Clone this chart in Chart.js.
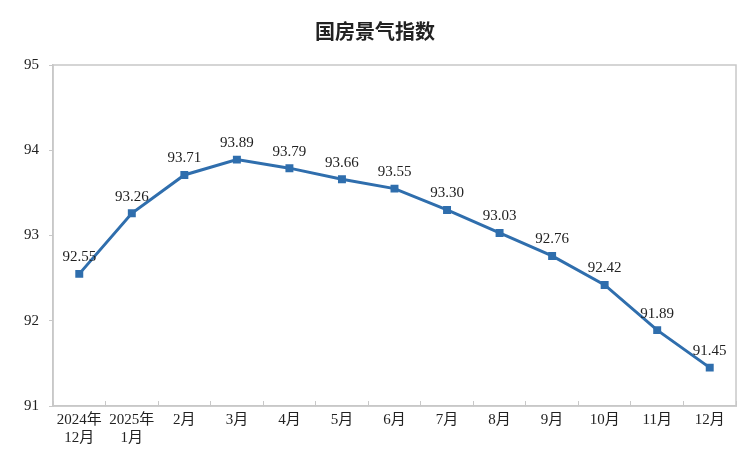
<!DOCTYPE html>
<html>
<head>
<meta charset="utf-8">
<script src="https://cdn.jsdelivr.net/npm/chart.js@4"></script>
<style>
html, body { margin: 0; padding: 0; background: #fff; }
#wrap { width: 756px; height: 459px; }
</style>
</head>
<body>
<div id="wrap"><canvas id="lineCanvas"></canvas></div>
<script>
const labels = [["2024年", "12月"], ["2025年", "1月"], "2月", "3月", "4月", "5月", "6月", "7月", "8月", "9月", "10月", "11月", "12月"];
const values = [92.55, 93.26, 93.71, 93.89, 93.79, 93.66, 93.55, 93.30, 93.03, 92.76, 92.42, 91.89, 91.45];
const yTicks = [91, 92, 93, 94, 95];

const serif = "'Liberation Serif', 'Noto Sans CJK SC', serif";

// cadre autour de la zone du graphique + étiquettes de valeurs
const framePlugin = {
    id: "frame",
    afterDraw(chart) {
        const ctx = chart.ctx;
        const a = chart.chartArea;
        ctx.save();
        ctx.strokeStyle = "#c8c8c8";
        ctx.lineWidth = 1.5;
        ctx.strokeRect(a.left, a.top, a.right - a.left, a.bottom - a.top);
        ctx.fillStyle = "#222";
        ctx.font = "15px " + serif;
        ctx.textAlign = "center";
        ctx.textBaseline = "bottom";
        chart.getDatasetMeta(0).data.forEach(function(p, i) {
            ctx.fillText(values[i].toFixed(2), p.x, p.y - 9);
        });
        ctx.restore();
    }
};

new Chart(document.getElementById("lineCanvas"), {
    type: "line",
    data: {
        labels: labels,
        datasets: [{
            data: values,
            borderColor: "#2f6ead",
            backgroundColor: "#2f6ead",
            borderWidth: 3,
            pointStyle: "rect",
            pointRadius: 3.5,
            tension: 0
        }]
    },
    options: {
        responsive: true,
        maintainAspectRatio: false,
        animation: false,
        layout: { padding: { left: 14, right: 20, top: 4, bottom: 2 } },
        scales: {
            x: {
                offset: true,
                grid: { display: true, drawOnChartArea: false, offset: true, tickLength: -5, color: "#c8c8c8" },
                border: { color: "#c8c8c8", width: 1.5 },
                ticks: { color: "#222", font: { family: serif, size: 15 }, maxRotation: 0, autoSkip: false, padding: 10 }
            },
            y: {
                min: 91,
                max: 95,
                afterBuildTicks: function(axis) { axis.ticks = yTicks.map(function(v) { return { value: v }; }); },
                grid: { display: true, drawOnChartArea: false, tickLength: 4, color: "#c8c8c8" },
                border: { color: "#c8c8c8", width: 1.5 },
                ticks: { color: "#222", font: { family: serif, size: 15 }, padding: 10 }
            }
        },
        plugins: {
            legend: { display: false },
            tooltip: { enabled: false },
            title: {
                display: true,
                text: "国房景气指数",
                color: "#222",
                font: { family: "'Noto Sans CJK SC', sans-serif", size: 20, weight: "bold" },
                padding: { top: 15, bottom: 22 }
            }
        }
    },
    plugins: [framePlugin]
});
</script>
</body>
</html>
